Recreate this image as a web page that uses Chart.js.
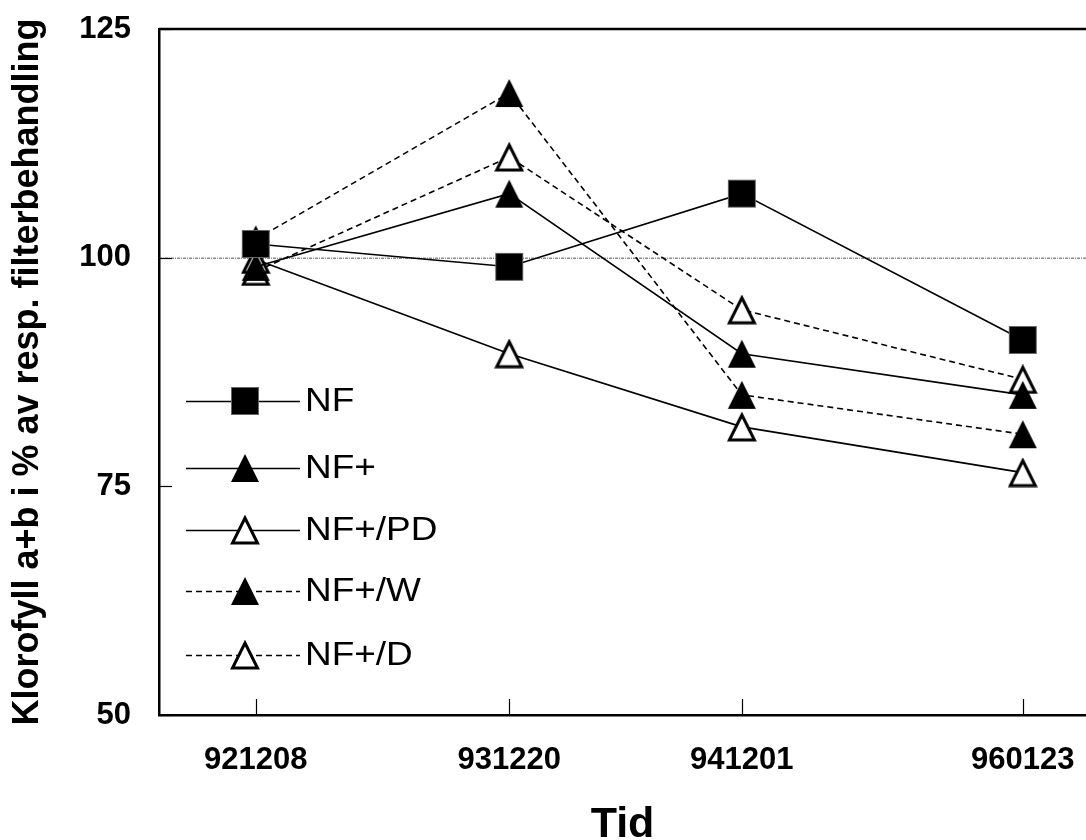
<!DOCTYPE html>
<html>
<head>
<meta charset="utf-8">
<script src="https://cdn.jsdelivr.net/npm/chart.js@4.4.0/dist/chart.umd.min.js"></script>
<style>
  html, body { margin: 0; padding: 0; background: #fff; }
  #wrap { width: 1086px; height: 840px; }
</style>
</head>
<body>
<div id="wrap"><canvas id="miGrafico" width="1086" height="840"></canvas></div>
<script>
// datum (aammdd) och värden i % av resp. filterbehandling
const datum = ['921208', '931220', '941201', '960123'];
const serieNamn = ['NF', 'NF+', 'NF+/PD', 'NF+/W', 'NF+/D'];
const nf    = [101.5, 99.0, 107.0, 91.0];
const nfp   = [99.0, 107.0, 89.5, 85.0];
const nfpPD = [99.8, 89.5, 81.5, 76.5];
const nfpW  = [102.0, 118.0, 85.0, 80.7];
const nfpD  = [98.5, 111.0, 94.3, 86.7];
const yTicks = [50, 75, 100, 125];
const refLinje = 100;

const FONT = "'Liberation Sans', Arial, Helvetica, sans-serif";

// dagnummer från aammdd
const dag = (s) => {
    const y = 1900 + parseInt(s.substring(0, 2), 10);
    const m = parseInt(s.substring(2, 4), 10) - 1;
    const d = parseInt(s.substring(4, 6), 10);
    return Date.UTC(y, m, d) / 86400000;
};
const xVals = datum.map(dag);

// markörer som små canvas-bilder (Excel-lika)
const markor = (typ) => {
    const c = document.createElement('canvas');
    const w = 30, h = 30;
    c.width = w; c.height = h;
    const g = c.getContext('2d');
    if (typ === 'square') {
        g.fillStyle = '#000';
        g.fillRect(1, 1, 28, 28);
        g.strokeStyle = '#666';
        g.lineWidth = 1;
        g.strokeRect(1.5, 1.5, 27, 27);
    } else {
        g.beginPath();
        if (typ === 'tri') {
            g.moveTo(15, 1); g.lineTo(29, 29); g.lineTo(1, 29);
        } else {
            g.moveTo(15, 3); g.lineTo(27.5, 28); g.lineTo(2.5, 28);
        }
        g.closePath();
        if (typ === 'tri') {
            g.fillStyle = '#000';
            g.fill();
        } else {
            g.fillStyle = '#fff';
            g.fill();
            g.strokeStyle = '#000';
            g.lineWidth = 3;
            g.lineJoin = 'miter';
            g.stroke();
        }
    }
    return c;
};
const mSq = markor('square');
const mTri = markor('tri');
const mOpen = markor('open');

const serie = (namn, vals, punkt, streck) => ({
    label: namn,
    data: vals.map((v, i) => ({ x: xVals[i], y: v })),
    borderColor: '#000',
    borderWidth: 1.6,
    borderDash: streck,
    pointStyle: punkt,
    pointRadius: 15,
    pointHoverRadius: 15,
    tension: 0,
    fill: false
});

const datasets = [
    serie(serieNamn[0], nf, mSq, []),
    serie(serieNamn[1], nfp, mTri, []),
    serie(serieNamn[2], nfpPD, mOpen, []),
    serie(serieNamn[3], nfpW, mTri, [6, 4]),
    serie(serieNamn[4], nfpD, mOpen, [6, 4])
];

// ram, referenslinje, inåtvända tickmarkeringar och legend
const ram = {
    id: 'ram',
    beforeDatasetsDraw(chart) {
        const { ctx, chartArea, scales } = chart;
        ctx.save();
        // referenslinje vid 100
        const y100 = scales.y.getPixelForValue(refLinje);
        ctx.strokeStyle = '#555';
        ctx.lineWidth = 1;
        ctx.setLineDash([3, 1, 1, 1]);
        ctx.beginPath();
        ctx.moveTo(chartArea.left, y100 + 0.5);
        ctx.lineTo(chartArea.right, y100 + 0.5);
        ctx.stroke();
        ctx.setLineDash([]);
        // övre ram
        ctx.strokeStyle = '#000';
        ctx.lineWidth = 2.5;
        ctx.beginPath();
        ctx.moveTo(chartArea.left, chartArea.top);
        ctx.lineTo(chartArea.right, chartArea.top);
        ctx.stroke();
        // tickmarkeringar inåt
        ctx.lineWidth = 1.2;
        for (const v of xVals) {
            const x = Math.round(scales.x.getPixelForValue(v)) + 0.5;
            ctx.beginPath();
            ctx.moveTo(x, chartArea.bottom);
            ctx.lineTo(x, chartArea.bottom - 16);
            ctx.stroke();
        }
        for (const v of yTicks) {
            const y = Math.round(scales.y.getPixelForValue(v)) + 0.5;
            ctx.beginPath();
            ctx.moveTo(chartArea.left, y);
            ctx.lineTo(chartArea.left + 13, y);
            ctx.stroke();
        }
        ctx.restore();
    },
    afterDatasetsDraw(chart) {
        const { ctx } = chart;
        const rader = [401, 468, 530, 591, 655];
        ctx.save();
        chart.data.datasets.forEach((ds, i) => {
            const y = rader[i];
            ctx.strokeStyle = '#000';
            ctx.lineWidth = 1.6;
            ctx.setLineDash(ds.borderDash);
            ctx.beginPath();
            ctx.moveTo(186, y + 0.5);
            ctx.lineTo(300, y + 0.5);
            ctx.stroke();
            ctx.setLineDash([]);
            const img = ds.pointStyle;
            ctx.drawImage(img, 245 - img.width / 2, y - img.height / 2);
            // texten är lite bredare i originalet
            ctx.save();
            ctx.translate(305, y + 1);
            ctx.scale(1.12, 1);
            ctx.fillStyle = '#000';
            ctx.font = '33px ' + FONT;
            ctx.textBaseline = 'middle';
            ctx.textAlign = 'left';
            ctx.fillText(ds.label, 0, 0);
            ctx.restore();
        });
        ctx.restore();
    }
};

const ctx = document.getElementById('miGrafico').getContext('2d');
const myChart = new Chart(ctx, {
    type: 'line',
    data: { datasets: datasets },
    options: {
        responsive: false,
        animation: false,
        events: [],
        layout: { autoPadding: false, padding: { top: 29, right: 0, left: 0, bottom: 0 } },
        plugins: {
            legend: { display: false },
            tooltip: { enabled: false }
        },
        scales: {
            x: {
                type: 'linear',
                min: xVals[0] - 144,
                max: xVals[3] + 94,
                grid: { display: false, drawTicks: false },
                border: { color: '#000', width: 2.5 },
                afterBuildTicks: (scale) => {
                    scale.ticks = xVals.map(v => ({ value: v }));
                },
                afterFit: (scale) => {
                    scale.height = 125;
                    scale.paddingLeft = 0;
                    scale.paddingRight = 0;
                },
                ticks: {
                    padding: 27,
                    maxRotation: 0,
                    autoSkip: false,
                    color: '#000',
                    font: { family: FONT, size: 31, weight: 'bold' },
                    callback: (v) => {
                        const i = xVals.indexOf(v);
                        return i >= 0 ? datum[i] : '';
                    }
                },
                title: {
                    display: true,
                    text: 'Tid',
                    color: '#000',
                    font: { family: FONT, size: 43, weight: 'bold', lineHeight: 0.7 },
                    padding: { top: 0, bottom: 0 }
                }
            },
            y: {
                min: 50,
                max: 125,
                grid: { display: false, drawTicks: false },
                border: { color: '#000', width: 2.5 },
                afterBuildTicks: (scale) => {
                    scale.ticks = yTicks.map(v => ({ value: v }));
                },
                afterFit: (scale) => {
                    scale.width = 159;
                    scale.paddingTop = 0;
                    scale.paddingBottom = 0;
                },
                ticks: {
                    padding: 28,
                    color: '#000',
                    font: { family: FONT, size: 31, weight: 'bold' }
                },
                title: {
                    display: true,
                    text: 'Klorofyll a+b i % av resp. filterbehandling',
                    color: '#000',
                    font: { family: FONT, size: 36, weight: 'bold' },
                    padding: { top: 6, bottom: 0 }
                }
            }
        }
    },
    plugins: [ram]
});
</script>
</body>
</html>
